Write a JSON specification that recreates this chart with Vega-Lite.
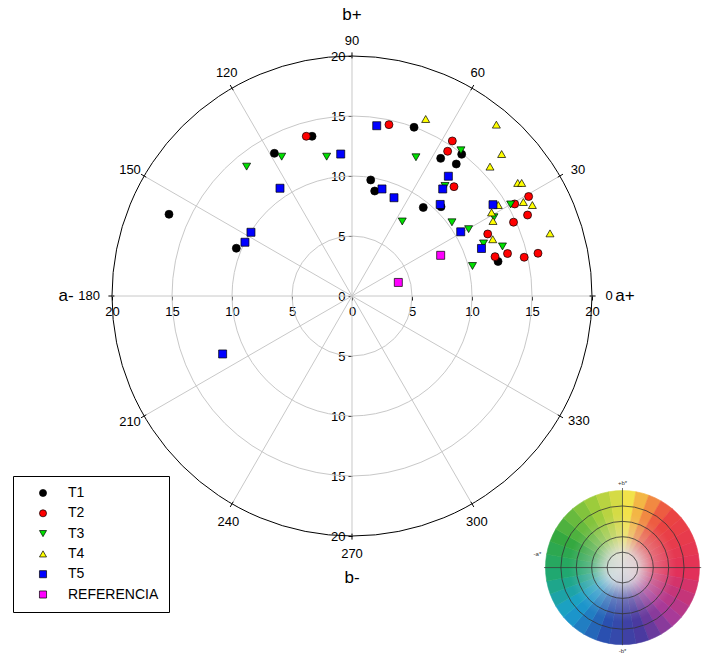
{
  "$schema": "https://vega.github.io/schema/vega-lite/v6.json",
  "width": 702,
  "height": 654,
  "padding": 0,
  "autosize": {"type": "none"},
  "background": "white",
  "config": {"view": {"stroke": null}, "font": "Liberation Sans"},
  "encoding": {
    "x": {
      "field": "x", "type": "quantitative",
      "scale": {"domain": [-29.3333, 29.1667], "nice": false, "zero": false},
      "axis": {
        "values": [-20, -15, -10, -5, 0, 5, 10, 15, 20],
        "labelExpr": "'' + abs(datum.value)",
        "offset": -358, "domain": false, "grid": false, "title": null,
        "tickSize": 4, "tickColor": "black", "labelColor": "black",
        "labelFontSize": 13, "labelFont": "Liberation Sans", "labelPadding": 5,
        "labelFlush": false, "labelOverlap": false
      }
    },
    "y": {
      "field": "y", "type": "quantitative",
      "scale": {"domain": [-29.8333, 24.6667], "nice": false, "zero": false},
      "axis": {
        "values": [-20, -15, -10, -5, 0, 5, 10, 15, 20],
        "labelExpr": "'' + abs(datum.value)",
        "offset": -352, "domain": false, "grid": false, "title": null,
        "tickSize": 4, "tickColor": "black", "labelColor": "black",
        "labelFontSize": 13, "labelFont": "Liberation Sans", "labelPadding": 3,
        "labelFlush": false, "labelOverlap": false
      }
    }
  },
  "layer": [
    {
      "data": {"values": [
        {"x": 0, "y": 0, "r": 5}, {"x": 0, "y": 0, "r": 10},
        {"x": 0, "y": 0, "r": 15}, {"x": 0, "y": 0, "r": 20}
      ]},
      "mark": {"type": "point", "shape": "circle", "filled": false, "opacity": 1, "strokeWidth": 1},
      "encoding": {
        "size": {"field": "r", "type": "quantitative", "scale": {"type": "pow", "exponent": 2, "domain": [0, 20], "range": [0, 230400]}, "legend": null},
        "stroke": {"condition": {"test": "datum.r == 20", "value": "black"}, "value": "#c8c8c8"}
      }
    },
    {
      "data": {"values": [
        {"x": 0, "y": 0, "x2": 20, "y2": 0}, {"x": 0, "y": 0, "x2": 17.32, "y2": 10},
        {"x": 0, "y": 0, "x2": 10, "y2": 17.32}, {"x": 0, "y": 0, "x2": 0, "y2": 20},
        {"x": 0, "y": 0, "x2": -10, "y2": 17.32}, {"x": 0, "y": 0, "x2": -17.32, "y2": 10},
        {"x": 0, "y": 0, "x2": -20, "y2": 0}, {"x": 0, "y": 0, "x2": -17.32, "y2": -10},
        {"x": 0, "y": 0, "x2": -10, "y2": -17.32}, {"x": 0, "y": 0, "x2": 0, "y2": -20},
        {"x": 0, "y": 0, "x2": 10, "y2": -17.32}, {"x": 0, "y": 0, "x2": 17.32, "y2": -10}
      ]},
      "mark": {"type": "rule", "color": "#c8c8c8", "strokeWidth": 1},
      "encoding": {"x2": {"field": "x2"}, "y2": {"field": "y2"}}
    },
    {
      "data": {"values": [
        {"x": 19.8, "y": 0, "x2": 20.3, "y2": 0},
        {"x": 17.147, "y": 9.9, "x2": 17.58, "y2": 10.15},
        {"x": 9.9, "y": 17.147, "x2": 10.15, "y2": 17.58},
        {"x": 0, "y": 19.8, "x2": 0, "y2": 20.3},
        {"x": -9.9, "y": 17.147, "x2": -10.15, "y2": 17.58},
        {"x": -17.147, "y": 9.9, "x2": -17.58, "y2": 10.15},
        {"x": -19.8, "y": 0, "x2": -20.3, "y2": 0},
        {"x": -17.147, "y": -9.9, "x2": -17.58, "y2": -10.15},
        {"x": -9.9, "y": -17.147, "x2": -10.15, "y2": -17.58},
        {"x": 0, "y": -19.8, "x2": 0, "y2": -20.3},
        {"x": 9.9, "y": -17.147, "x2": 10.15, "y2": -17.58},
        {"x": 17.147, "y": -9.9, "x2": 17.58, "y2": -10.15}
      ]},
      "mark": {"type": "rule", "color": "black", "strokeWidth": 1},
      "encoding": {"x2": {"field": "x2"}, "y2": {"field": "y2"}}
    },
    {
      "data": {"values": [
        {"x": 22.54, "y": -22.63, "c0": 0, "c1": 10}, {"x": 22.54, "y": -22.63, "c0": 10, "c1": 20},
        {"x": 22.54, "y": -22.63, "c0": 20, "c1": 30}, {"x": 22.54, "y": -22.63, "c0": 30, "c1": 40},
        {"x": 22.54, "y": -22.63, "c0": 40, "c1": 50}, {"x": 22.54, "y": -22.63, "c0": 50, "c1": 60},
        {"x": 22.54, "y": -22.63, "c0": 60, "c1": 70}, {"x": 22.54, "y": -22.63, "c0": 70, "c1": 80},
        {"x": 22.54, "y": -22.63, "c0": 80, "c1": 90}, {"x": 22.54, "y": -22.63, "c0": 90, "c1": 100},
        {"x": 22.54, "y": -22.63, "c0": 100, "c1": 110}, {"x": 22.54, "y": -22.63, "c0": 110, "c1": 120},
        {"x": 22.54, "y": -22.63, "c0": 120, "c1": 130}, {"x": 22.54, "y": -22.63, "c0": 130, "c1": 140},
        {"x": 22.54, "y": -22.63, "c0": 140, "c1": 150}, {"x": 22.54, "y": -22.63, "c0": 150, "c1": 160},
        {"x": 22.54, "y": -22.63, "c0": 160, "c1": 170}, {"x": 22.54, "y": -22.63, "c0": 170, "c1": 180},
        {"x": 22.54, "y": -22.63, "c0": 180, "c1": 190}, {"x": 22.54, "y": -22.63, "c0": 190, "c1": 200},
        {"x": 22.54, "y": -22.63, "c0": 200, "c1": 210}, {"x": 22.54, "y": -22.63, "c0": 210, "c1": 220},
        {"x": 22.54, "y": -22.63, "c0": 220, "c1": 230}, {"x": 22.54, "y": -22.63, "c0": 230, "c1": 240},
        {"x": 22.54, "y": -22.63, "c0": 240, "c1": 250}, {"x": 22.54, "y": -22.63, "c0": 250, "c1": 260},
        {"x": 22.54, "y": -22.63, "c0": 260, "c1": 270}, {"x": 22.54, "y": -22.63, "c0": 270, "c1": 280},
        {"x": 22.54, "y": -22.63, "c0": 280, "c1": 290}, {"x": 22.54, "y": -22.63, "c0": 290, "c1": 300},
        {"x": 22.54, "y": -22.63, "c0": 300, "c1": 310}, {"x": 22.54, "y": -22.63, "c0": 310, "c1": 320},
        {"x": 22.54, "y": -22.63, "c0": 320, "c1": 330}, {"x": 22.54, "y": -22.63, "c0": 330, "c1": 340},
        {"x": 22.54, "y": -22.63, "c0": 340, "c1": 350}, {"x": 22.54, "y": -22.63, "c0": 350, "c1": 360}
      ]},
      "mark": {"type": "arc", "strokeWidth": 0.6, "outerRadius": 77, "innerRadius": 0},
      "encoding": {
        "theta": {"field": "c0", "type": "quantitative", "scale": {"domain": [0, 360]}, "stack": null},
        "theta2": {"field": "c1"},
        "fill": {"field": "c0", "type": "quantitative", "legend": null,
          "scale": {"domain": [0, 15, 35, 90, 130, 160, 190, 225, 260, 290, 330, 360],
            "range": ["#f2e24a", "#f3a043", "#eb4540", "#e2305a", "#a83a98", "#4a3aa0", "#2a50b0", "#1aa0d0", "#20a870", "#34a840", "#9ccc3c", "#f2e24a"],
            "interpolate": "rgb"}},
        "stroke": {"field": "c0", "type": "quantitative", "legend": null,
          "scale": {"domain": [0, 15, 35, 90, 130, 160, 190, 225, 260, 290, 330, 360],
            "range": ["#f2e24a", "#f3a043", "#eb4540", "#e2305a", "#a83a98", "#4a3aa0", "#2a50b0", "#1aa0d0", "#20a870", "#34a840", "#9ccc3c", "#f2e24a"],
            "interpolate": "rgb"}}
      }
    },
    {
      "data": {"values": [{"x": 22.54, "y": -22.63, "r": 6.417}]},
      "mark": {"type": "point", "shape": "circle", "filled": true, "opacity": 1, "strokeWidth": 0,
        "fill": {"gradient": "radial", "x1": 0.5, "y1": 0.5, "r1": 0, "x2": 0.5, "y2": 0.5, "r2": 0.5,
          "stops": [
            {"offset": 0, "color": "#dedede"},
            {"offset": 0.18, "color": "rgba(226,226,226,0.9)"},
            {"offset": 0.42, "color": "rgba(226,226,226,0.3)"},
            {"offset": 0.7, "color": "rgba(226,226,226,0)"},
            {"offset": 1, "color": "rgba(226,226,226,0)"}
          ]}},
      "encoding": {"size": {"field": "r", "type": "quantitative", "legend": null}}
    },
    {
      "data": {"values": [
        {"x": 22.54, "y": -22.63, "r": 1.283}, {"x": 22.54, "y": -22.63, "r": 2.567},
        {"x": 22.54, "y": -22.63, "r": 3.85}, {"x": 22.54, "y": -22.63, "r": 5.133}
      ]},
      "mark": {"type": "point", "shape": "circle", "filled": false, "opacity": 1, "stroke": "#333333", "strokeWidth": 0.8},
      "encoding": {"size": {"field": "r", "type": "quantitative", "legend": null}}
    },
    {
      "data": {"values": [
        {"x": 16.0, "y": -22.63, "x2": 29.1, "y2": -22.63},
        {"x": 22.54, "y": -29.1, "x2": 22.54, "y2": -16.0}
      ]},
      "mark": {"type": "rule", "color": "#333333", "strokeWidth": 0.7},
      "encoding": {"x2": {"field": "x2"}, "y2": {"field": "y2"}}
    },
    {
      "data": {"values": [
        {"x": 22.54, "y": -15.6, "t": "+b*"},
        {"x": 22.54, "y": -29.6, "t": "-b*"},
        {"x": 15.45, "y": -21.5, "t": "-a*"}
      ]},
      "mark": {"type": "text", "fontSize": 6, "color": "#333333", "align": "center", "baseline": "middle"},
      "encoding": {"text": {"field": "t"}}
    },
    {
      "data": {"values": [
        {"x": 21.42, "y": 0, "t": "0"},
        {"x": 18.83, "y": 10.5, "t": "30"},
        {"x": 10.47, "y": 18.56, "t": "60"},
        {"x": 0, "y": 21.28, "t": "90"},
        {"x": -10.44, "y": 18.56, "t": "120"},
        {"x": -18.5, "y": 10.5, "t": "150"},
        {"x": -21.9, "y": 0, "t": "180"},
        {"x": -18.5, "y": -10.5, "t": "210"},
        {"x": -10.3, "y": -18.8, "t": "240"},
        {"x": 0, "y": -21.5, "t": "270"},
        {"x": 10.4, "y": -18.8, "t": "300"},
        {"x": 18.9, "y": -10.45, "t": "330"}
      ]},
      "mark": {"type": "text", "fontSize": 13, "color": "black", "align": "center", "baseline": "middle"},
      "encoding": {"text": {"field": "t"}}
    },
    {
      "data": {"values": [
        {"x": 0, "y": 23.4, "t": "b+"},
        {"x": 0, "y": -23.5, "t": "b-"},
        {"x": -23.83, "y": 0, "t": "a-"},
        {"x": 22.75, "y": 0, "t": "a+"}
      ]},
      "mark": {"type": "text", "fontSize": 17, "color": "black", "align": "center", "baseline": "middle"},
      "encoding": {"text": {"field": "t"}}
    },
    {
      "data": {"values": [
        {"s": "T1", "x": -15.25, "y": 6.81}, {"s": "T1", "x": -9.64, "y": 3.98},
        {"s": "T1", "x": -6.47, "y": 11.89}, {"s": "T1", "x": -3.33, "y": 13.31},
        {"s": "T1", "x": 1.56, "y": 9.67}, {"s": "T1", "x": 1.89, "y": 8.75},
        {"s": "T1", "x": 5.17, "y": 14.06}, {"s": "T1", "x": 7.39, "y": 11.47},
        {"s": "T1", "x": 9.14, "y": 11.81}, {"s": "T1", "x": 8.69, "y": 11.0},
        {"s": "T1", "x": 5.94, "y": 7.38}, {"s": "T1", "x": 7.42, "y": 7.44},
        {"s": "T1", "x": 12.17, "y": 2.88},
        {"s": "T2", "x": -3.81, "y": 13.31}, {"s": "T2", "x": 3.08, "y": 14.28},
        {"s": "T2", "x": 8.36, "y": 12.92}, {"s": "T2", "x": 7.97, "y": 12.06},
        {"s": "T2", "x": 8.5, "y": 9.11}, {"s": "T2", "x": 13.56, "y": 7.67},
        {"s": "T2", "x": 14.72, "y": 8.29}, {"s": "T2", "x": 14.63, "y": 6.75},
        {"s": "T2", "x": 13.46, "y": 6.15}, {"s": "T2", "x": 11.31, "y": 5.17},
        {"s": "T2", "x": 11.92, "y": 3.28}, {"s": "T2", "x": 12.96, "y": 3.54},
        {"s": "T2", "x": 14.35, "y": 3.23}, {"s": "T2", "x": 15.5, "y": 3.56},
        {"s": "T3", "x": -8.78, "y": 10.78}, {"s": "T3", "x": -5.86, "y": 11.61},
        {"s": "T3", "x": -2.11, "y": 11.61}, {"s": "T3", "x": 5.33, "y": 11.56},
        {"s": "T3", "x": 9.08, "y": 12.14}, {"s": "T3", "x": 7.75, "y": 9.17},
        {"s": "T3", "x": 4.19, "y": 6.21}, {"s": "T3", "x": 8.33, "y": 6.14},
        {"s": "T3", "x": 9.72, "y": 5.57}, {"s": "T3", "x": 10.04, "y": 2.5},
        {"s": "T3", "x": 13.22, "y": 7.63}, {"s": "T3", "x": 11.83, "y": 6.56},
        {"s": "T3", "x": 10.96, "y": 4.38}, {"s": "T3", "x": 12.54, "y": 4.13},
        {"s": "T4", "x": 6.14, "y": 14.75}, {"s": "T4", "x": 12.03, "y": 14.28},
        {"s": "T4", "x": 12.47, "y": 11.83}, {"s": "T4", "x": 11.5, "y": 10.78},
        {"s": "T4", "x": 13.81, "y": 9.42}, {"s": "T4", "x": 14.14, "y": 9.42},
        {"s": "T4", "x": 12.19, "y": 7.58}, {"s": "T4", "x": 14.28, "y": 7.83},
        {"s": "T4", "x": 15.03, "y": 7.58}, {"s": "T4", "x": 11.63, "y": 6.96},
        {"s": "T4", "x": 11.75, "y": 6.25}, {"s": "T4", "x": 11.73, "y": 4.73},
        {"s": "T4", "x": 16.5, "y": 5.22},
        {"s": "T5", "x": -10.78, "y": -4.83}, {"s": "T5", "x": -8.92, "y": 4.48},
        {"s": "T5", "x": -8.42, "y": 5.31}, {"s": "T5", "x": -6.0, "y": 8.98},
        {"s": "T5", "x": -0.94, "y": 11.83}, {"s": "T5", "x": 2.06, "y": 14.19},
        {"s": "T5", "x": 2.5, "y": 8.92}, {"s": "T5", "x": 3.5, "y": 8.19},
        {"s": "T5", "x": 8.03, "y": 9.98}, {"s": "T5", "x": 7.56, "y": 8.92},
        {"s": "T5", "x": 7.35, "y": 7.63}, {"s": "T5", "x": 9.06, "y": 5.35},
        {"s": "T5", "x": 11.75, "y": 7.61}, {"s": "T5", "x": 10.79, "y": 3.96},
        {"s": "REFERENCIA", "x": 7.39, "y": 3.39}, {"s": "REFERENCIA", "x": 3.86, "y": 1.13}
      ]},
      "mark": {"type": "point", "filled": true, "size": 64, "opacity": 1, "stroke": "black", "strokeWidth": 0.7},
      "encoding": {
        "color": {
          "field": "s", "type": "nominal",
          "scale": {"domain": ["T1", "T2", "T3", "T4", "T5", "REFERENCIA"], "range": ["#000000", "#ff0000", "#00e000", "#ffff00", "#0000ff", "#ff00ff"]},
          "legend": {
            "title": null, "orient": "none", "legendX": 13, "legendY": 476,
            "strokeColor": "black", "fillColor": "white", "padding": 10,
            "rowPadding": 6.3, "symbolOffset": 13, "labelOffset": 18,
            "symbolSize": 50, "symbolStrokeColor": "black", "symbolStrokeWidth": 0.7,
            "labelFontSize": 14, "labelFont": "Liberation Sans", "labelColor": "black"
          }
        },
        "shape": {
          "field": "s", "type": "nominal",
          "scale": {"domain": ["T1", "T2", "T3", "T4", "T5", "REFERENCIA"], "range": ["circle", "circle", "triangle-down", "triangle-up", "square", "square"]}
        }
      }
    }
  ]
}
